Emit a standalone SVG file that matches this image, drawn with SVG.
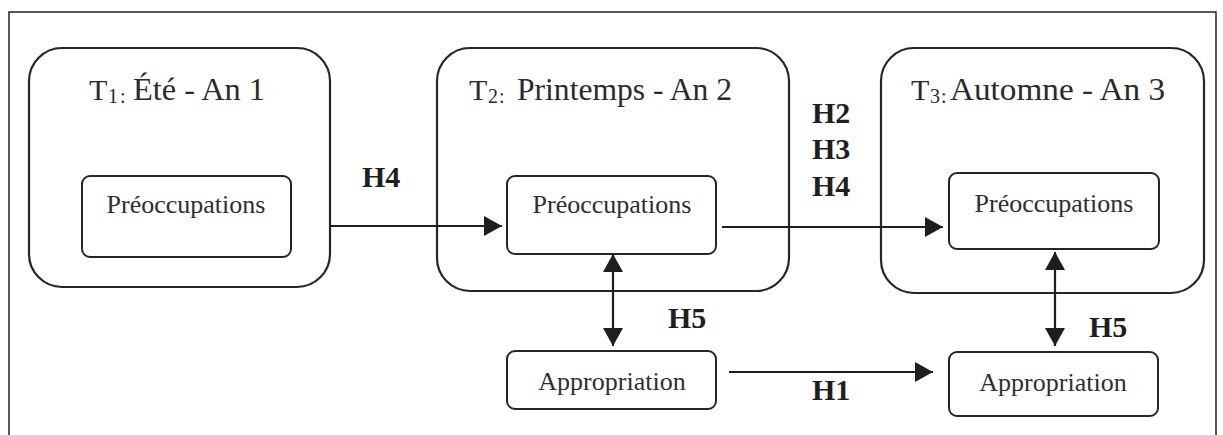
<svg xmlns="http://www.w3.org/2000/svg" width="1223" height="435" viewBox="0 0 1223 435">
<style>
.frame{fill:none;stroke:#222;stroke-width:1.5}
.outer{fill:none;stroke:#262626;stroke-width:2.2}
.inner{fill:#fff;stroke:#262626;stroke-width:2}
.conn{fill:none;stroke:#1e1e1e;stroke-width:2.2}
.title{font-family:"Liberation Serif","Times New Roman",serif;font-size:32px;fill:#2a2a2a}
.sub{font-size:20px}
.lbl{font-family:"Liberation Serif","Times New Roman",serif;font-size:26px;fill:#2e2e2e;text-anchor:middle}
.h{font-family:"Liberation Serif","Times New Roman",serif;font-size:30px;font-weight:bold;fill:#1e1e1e}
</style>
<defs>
<marker id="arr" viewBox="0 0 18 20" refX="18" refY="10" markerWidth="18" markerHeight="20" markerUnits="userSpaceOnUse" orient="auto-start-reverse">
<path d="M0,0 L18,10 L0,20 z" fill="#1e1e1e"/>
</marker>
</defs>
<rect width="1223" height="435" fill="#fff"/>
<rect class="frame" x="9" y="12" width="1207" height="440"/>

<g id="t1">
<rect class="outer" x="29" y="48" width="301" height="239" rx="33"/>
<text class="title" y="100"><tspan x="89" font-size="30">T</tspan><tspan class="sub" x="108" dy="3">1</tspan><tspan class="sub" x="120">:</tspan><tspan x="133" dy="-3" textLength="132" lengthAdjust="spacingAndGlyphs">Été - An 1</tspan></text>
</g>
<g id="t1-preoccupations">
<rect class="inner" x="82" y="176" width="209" height="81" rx="8"/>
<text class="lbl" x="186" y="213">Préoccupations</text>
</g>

<g id="t2">
<rect class="outer" x="437" y="48" width="352" height="243" rx="33"/>
<text class="title" y="100"><tspan x="469" font-size="30">T</tspan><tspan class="sub" x="488" dy="3">2</tspan><tspan class="sub" x="499">:</tspan><tspan x="517" dy="-3" textLength="215" lengthAdjust="spacingAndGlyphs">Printemps - An 2</tspan></text>
</g>
<g id="t2-preoccupations">
<rect class="inner" x="507" y="176" width="209" height="78" rx="8"/>
<text class="lbl" x="612" y="213">Préoccupations</text>
</g>

<g id="t3">
<rect class="outer" x="881" y="48" width="323" height="245" rx="33"/>
<text class="title" y="100"><tspan x="911" font-size="30">T</tspan><tspan class="sub" x="930" dy="3">3</tspan><tspan class="sub" x="941">:</tspan><tspan x="950" dy="-3" textLength="215" lengthAdjust="spacingAndGlyphs">Automne - An 3</tspan></text>
</g>
<g id="t3-preoccupations">
<rect class="inner" x="949" y="173" width="210" height="76" rx="8"/>
<text class="lbl" x="1054" y="212">Préoccupations</text>
</g>

<g id="t2-appropriation">
<rect class="inner" x="507" y="351" width="209" height="58" rx="8"/>
<text class="lbl" x="612" y="390">Appropriation</text>
</g>
<g id="t3-appropriation">
<rect class="inner" x="949" y="352" width="209" height="64" rx="8"/>
<text class="lbl" x="1053" y="391">Appropriation</text>
</g>

<g id="connectors">
<line class="conn" x1="330" y1="226" x2="502" y2="226" marker-end="url(#arr)"/>
<line class="conn" x1="722" y1="227" x2="943" y2="227" marker-end="url(#arr)"/>
<line class="conn" x1="729" y1="372" x2="933" y2="372" marker-end="url(#arr)"/>
<line class="conn" x1="613" y1="254" x2="613" y2="346" marker-start="url(#arr)" marker-end="url(#arr)"/>
<line class="conn" x1="1055" y1="252" x2="1055" y2="346" marker-start="url(#arr)" marker-end="url(#arr)"/>
</g>

<g id="labels">
<text class="h" x="362" y="187">H4</text>
<text class="h" x="812" y="123">H2</text>
<text class="h" x="812" y="159">H3</text>
<text class="h" x="812" y="196">H4</text>
<text class="h" x="668" y="328">H5</text>
<text class="h" x="1089" y="337">H5</text>
<text class="h" x="812" y="400">H1</text>
</g>
</svg>
